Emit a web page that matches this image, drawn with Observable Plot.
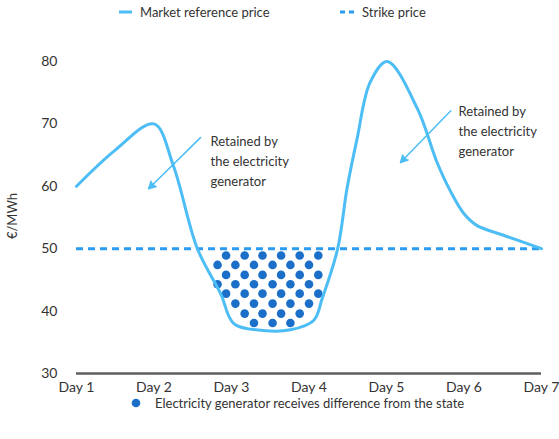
<!DOCTYPE html>
<html>
<head>
<meta charset="utf-8">
<script src="https://cdn.jsdelivr.net/npm/d3@7"></script>
<script src="https://cdn.jsdelivr.net/npm/@observablehq/plot@0.6"></script>
<style>
  html, body { margin: 0; padding: 0; background: #fff; }
  body { font-family: Lato, "Open Sans", sans-serif; color: #333; }
  #wrap { position: relative; width: 559px; height: 439px; }
  .legend { position: absolute; font-size: 13px; color: #333; white-space: nowrap; display: flex; align-items: center; }
  .legend svg { margin-right: 8px; }
</style>
</head>
<body>
<div id="wrap">
  <div class="legend" style="left:119px; top:4px;">
    <svg width="13" height="6"><line x1="0" y1="3" x2="13" y2="3" stroke="#4dbdf5" stroke-width="3"/></svg>
    <span>Market reference price</span>
  </div>
  <div class="legend" style="left:340px; top:4px;">
    <svg width="14" height="6"><line x1="0" y1="3" x2="14" y2="3" stroke="#2b9cf0" stroke-width="3" stroke-dasharray="5,4"/></svg>
    <span>Strike price</span>
  </div>
  <div class="legend" style="left:131px; top:395px;">
    <svg width="10" height="10" style="margin-right:14px"><circle cx="5" cy="5" r="4.3" fill="#1b6fc8"/></svg>
    <span>Electricity generator receives difference from the state</span>
  </div>
</div>
<script>
// Day labels along the x axis
const dayNumbers = [1, 2, 3, 4, 5, 6, 7];
const dayLabels = ["Day 1", "Day 2", "Day 3", "Day 4", "Day 5", "Day 6", "Day 7"];
const priceTicks = [30, 40, 50, 60, 70, 80];

// Market reference price (€/MWh) sampled along the week
const marketDays  = [1, 1.5, 2, 2.25, 2.56, 2.86, 3.03, 3.41, 3.76, 4.06, 4.17, 4.37, 4.49, 4.62, 4.79, 5.01, 5.4, 5.65, 5.83, 6, 6.17, 6.5, 7];
const marketPrice = [60, 65.8, 70, 63.3, 50, 42.8, 38, 36.9, 37, 38.5, 42, 50, 59.6, 67.6, 76.7, 80, 72.4, 63.9, 59.1, 55.6, 53.7, 52.2, 50];

// Strike price (€/MWh)
const strikePrice = 50;

// Dotted fill for the gap below the strike price: one price level per row
const dotRowPrice = [48.9, 47.4, 45.8, 44.3, 42.8, 41.2, 39.6, 38.1];
const dotRowDays = [
  [2.93, 3.17, 3.40, 3.64, 3.88, 4.12],
  [2.82, 3.05, 3.29, 3.53, 3.76, 4.00],
  [2.93, 3.17, 3.40, 3.64, 3.88, 4.12],
  [2.82, 3.05, 3.29, 3.53, 3.76, 4.00],
  [2.93, 3.17, 3.40, 3.64, 3.88, 4.12],
  [3.05, 3.29, 3.53, 3.76, 4.00],
  [3.17, 3.40, 3.64, 3.88],
  [3.29, 3.53, 3.76]
];

// Annotations
const noteText = ["Retained by\nthe electricity\ngenerator", "Retained by\nthe electricity\ngenerator"];
const noteDay = [2.73, 5.93];
const notePrice = [64.3, 69.1];
const arrowFromDay = [2.60, 5.83];
const arrowFromPrice = [67.8, 72.1];
const arrowToDay = [1.93, 5.18];
const arrowToPrice = [59.6, 63.8];

const lightBlue = "#4dbdf5";
const strikeBlue = "#2b9cf0";
const dotBlue = "#1b6fc8";

const market = marketDays.map((d, i) => ({day: d, price: marketPrice[i]}));
const dots = dotRowPrice.flatMap((p, i) => dotRowDays[i].map(d => ({day: d, price: p})));
const notes = noteText.map((t, i) => ({text: t, day: noteDay[i], price: notePrice[i]}));
const arrows = arrowFromDay.map((d, i) => ({
  x1: d, y1: arrowFromPrice[i], x2: arrowToDay[i], y2: arrowToPrice[i]
}));

const chart = Plot.plot({
  width: 559,
  height: 439,
  marginLeft: 76,
  marginRight: 18,
  marginTop: 61,
  marginBottom: 66,
  style: {fontFamily: "Lato, 'Open Sans', sans-serif", fontSize: "13px", color: "#333", background: "transparent"},
  x: {domain: [1, 7], axis: null},
  y: {domain: [30, 80], axis: null},
  marks: [
    Plot.axisY(priceTicks, {tickSize: 0, tickPadding: 19, fontSize: 14, fill: "#333", label: null}),
    Plot.axisX(dayNumbers, {tickSize: 0, tickPadding: 9, fontSize: 14, fill: "#333", label: null,
      tickFormat: d => dayLabels[dayNumbers.indexOf(d)]}),
    Plot.ruleY([30], {stroke: "#5f5f5f", strokeWidth: 2.5}),
    Plot.ruleY([strikePrice], {stroke: strikeBlue, strokeWidth: 3, strokeDasharray: "7,5"}),
    Plot.dot(dots, {x: "day", y: "price", r: 4.3, fill: dotBlue}),
    Plot.line(market, {x: "day", y: "price", curve: "catmull-rom", stroke: lightBlue, strokeWidth: 3}),
    Plot.arrow(arrows, {x1: "x1", y1: "y1", x2: "x2", y2: "y2", stroke: lightBlue, fill: lightBlue, strokeWidth: 1.5, headLength: 8, headAngle: 55}),
    Plot.text(notes, {x: "day", y: "price", text: "text", textAnchor: "start", lineAnchor: "middle", lineHeight: 1.55, fontSize: 13, fill: "#333"})
  ]
});

// y axis title, drawn inside the svg
const svg = d3.select(chart);
svg.append("text")
  .attr("transform", "translate(14,216) rotate(-90)")
  .attr("text-anchor", "middle")
  .attr("dominant-baseline", "middle")
  .attr("font-size", 13)
  .attr("fill", "#333")
  .text("€/MWh");

chart.style.position = "absolute";
chart.style.left = "0";
chart.style.top = "0";
document.getElementById("wrap").prepend(chart);
</script>
</body>
</html>
